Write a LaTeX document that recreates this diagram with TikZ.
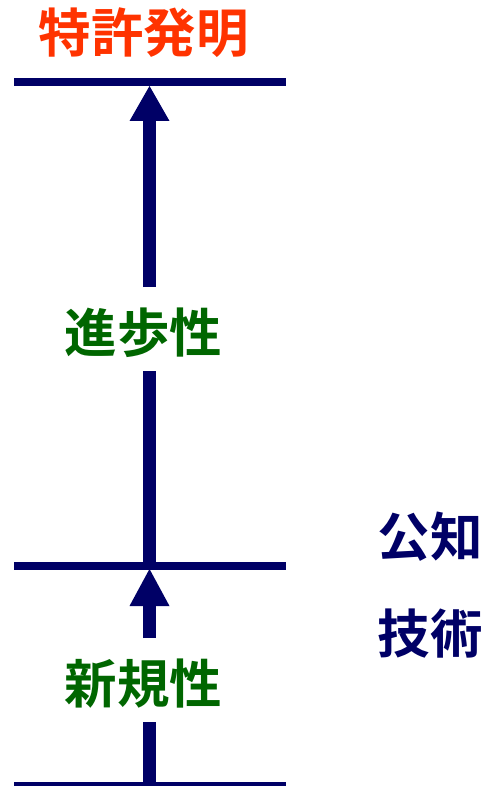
\documentclass[tikz,border=0pt]{standalone}
\usepackage{fontspec}
\newfontfamily\jpfont{Noto Sans CJK JP}[BoldFont={* Bold}]
\definecolor{navy}{HTML}{000066}
\definecolor{jgreen}{HTML}{006600}
\definecolor{jred}{HTML}{FF3300}
\begin{document}
\begin{tikzpicture}[x=1pt,y=-1pt,
  level/.style={draw=navy,line width=8pt},
  shaft/.style={draw=navy,line width=13pt},
  head/.style={fill=navy},
  lbl/.style={font=\jpfont\bfseries\fontsize{52.5}{60}\selectfont,inner sep=0pt}]
\useasboundingbox (0,0) rectangle (492,786);
% levels
\coordinate (t1) at (14,82.5);  \coordinate (t2) at (286,82.5);
\coordinate (m1) at (14,565.5); \coordinate (m2) at (286,565.5);
\coordinate (b1) at (14,786);   \coordinate (b2) at (286,786);
\draw[level] (t1) -- (t2);
\draw[level] (m1) -- (m2);
\draw[level] (b1) -- (b2);
% labels
\node[lbl,text=jred] (patent) at (143.5,33) {特許発明};
\node[lbl,text=jgreen] (step2) at (143.5,333) {進歩性};
\node[lbl,text=jgreen] (novel) at (143.5,684) {新規性};
\node[lbl,text=navy] (k1) at (430,537) {公知};
\node[lbl,text=navy] (k2) at (430,634) {技術};
% upper arrow
\coordinate (a1tip) at (149.5,86);
\coordinate (a1base) at (149.5,120);
\draw[shaft] (149.5,287) -- (a1base);
\draw[shaft] (149.5,371) -- (149.5,565);
\fill[head] (a1tip) -- (129.5,121) -- (169.5,121) -- cycle;
% lower arrow
\coordinate (a2tip) at (149.5,569);
\coordinate (a2base) at (149.5,605);
\draw[shaft] (149.5,638) -- (a2base);
\draw[shaft] (149.5,722) -- (149.5,786);
\fill[head] (a2tip) -- (129.5,606) -- (169.5,606) -- cycle;
\end{tikzpicture}
\end{document}
